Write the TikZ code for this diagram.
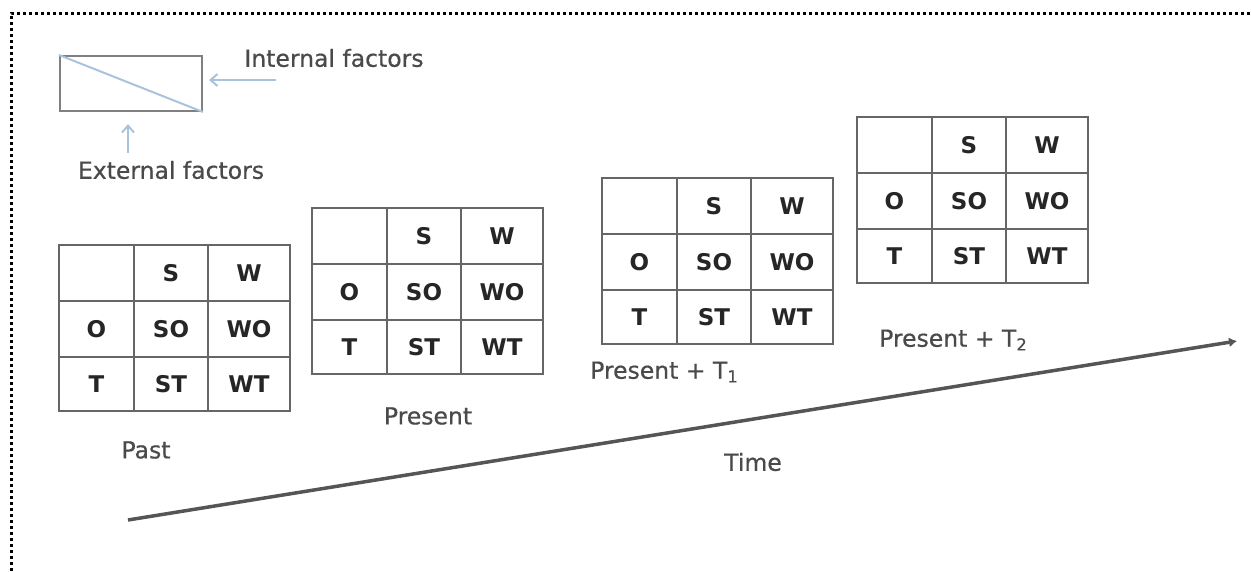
\documentclass[tikz,border=0pt]{standalone}
\usepackage{fontspec}
\setmainfont{DejaVu Sans}
\newfontfamily\labfont[FakeBold=0.6]{DejaVu Sans}
\usetikzlibrary{arrows.meta}
\definecolor{gridgray}{HTML}{666666}
\definecolor{legblue}{HTML}{A9C3DD}
\definecolor{labgray}{HTML}{4A4A4A}
\definecolor{arrowgray}{HTML}{555555}
\tikzset{
  cell/.style={font=\fontsize{23}{23}\selectfont\bfseries, text=black!85, inner sep=0pt},
  gridline/.style={draw=gridgray, line width=2.4pt},
  lab/.style={font=\labfont\fontsize{23.5}{23.5}\selectfont, text=labgray, inner sep=0pt},
  legarrow/.style={draw=legblue, line width=2pt, -{Straight Barb[length=7pt,width=12pt]}},
  border/.style={line width=3pt, dash pattern=on 3pt off 3pt},
}
\newcommand\swotgrid[3]{%
  \begin{scope}[shift={(#2,#3)}]
    \draw[gridline] (0,0) rectangle (231,166);
    \draw[gridline] (75,0) -- (75,166) (149,0) -- (149,166)
                    (0,56) -- (231,56) (0,112) -- (231,112);
    \node[cell] (#1-S)  at (112,28) {S};
    \node[cell] (#1-W)  at (190,28) {W};
    \node[cell] (#1-O)  at (37.5,84) {O};
    \node[cell] (#1-SO) at (112,84) {SO};
    \node[cell] (#1-WO) at (190,84) {WO};
    \node[cell] (#1-T)  at (37.5,139) {T};
    \node[cell] (#1-ST) at (112,139) {ST};
    \node[cell] (#1-WT) at (190,139) {WT};
  \end{scope}}
\begin{document}
\begin{tikzpicture}[x=1pt,y=-1pt]
\useasboundingbox (0,0) rectangle (1251,571);
% page border
\draw[border] (11,571) -- (11,13) -- (1251,13);
% legend
\node[draw=gray, line width=2pt, minimum width=142pt, minimum height=55pt, inner sep=0pt] (leg) at (131,83.5) {};
\draw[draw=legblue, line width=2pt] (leg.north west) -- (leg.south east);
\coordinate (ia) at (276,80);
\draw[legarrow] (ia) -- ([xshift=6pt,yshift=3.5pt]leg.east);
\node[lab] (intf) at (334,58) {Internal factors};
\coordinate (ea) at (128,153);
\draw[legarrow] (ea) -- ([yshift=-12pt]leg.south -| ea);
\node[lab] (extf) at (171,170) {External factors};
% tables
\swotgrid{past}{59}{245}
\swotgrid{pres}{312}{208}
\swotgrid{tone}{602}{178}
\swotgrid{ttwo}{857}{117}
% labels
\node[lab] (lpast) at (146,450) {Past};
\node[lab] (lpres) at (428,416) {Present};
\node[lab, anchor=west] (ltone) at (590,372) {Present + T\textsubscript{1}};
\node[lab, anchor=west] (lttwo) at (879,340) {Present + T\textsubscript{2}};
% time arrow
\coordinate (ts) at (128,520);
\coordinate (te) at (1237,341);
\draw[draw=arrowgray, line width=3.5pt, -{Latex[length=8pt,width=10pt]}] (ts) -- (te);
\node[lab] (ltime) at (753,462) {Time};
\end{tikzpicture}
\end{document}
